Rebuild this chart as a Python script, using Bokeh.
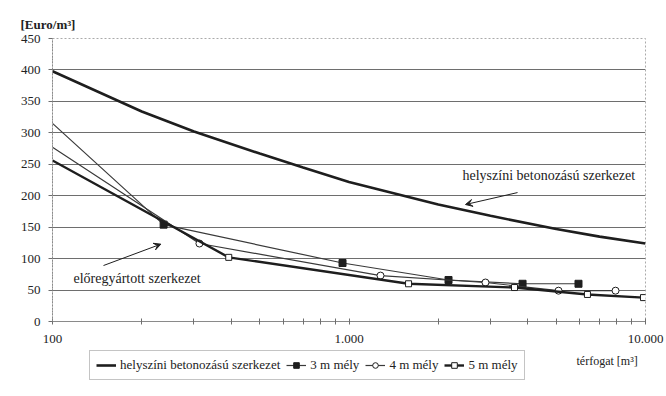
from bokeh.plotting import figure
from bokeh.layouts import column
from bokeh.models import (Range1d, Legend, LegendItem, Label, Arrow, VeeHead,
                          FixedTicker, Title)
from bokeh.embed import file_html
from bokeh.resources import INLINE

# ---- data ----
vol_insitu = [100, 200, 300, 500, 700, 1000, 2000, 3000, 5000, 7000, 10000]
cost_insitu = [398, 334, 302, 267, 245, 222, 186, 168, 147, 135, 124]

vol_3m = [100, 237, 951, 2166, 3849, 5943]
cost_3m = [315, 154, 93, 66, 60, 60]

vol_4m = [100, 313, 1277, 2886, 5089, 7924]
cost_4m = [277, 124, 73, 62, 49, 49]

vol_5m = [100, 393, 1588, 3616, 6371, 9845]
cost_5m = [256, 102, 60, 54, 43, 38]

series_names = ["helyszíni betonozású szerkezet", "3 m mély", "4 m mély", "5 m mély"]

y_ticks = [0, 50, 100, 150, 200, 250, 300, 350, 400, 450]
x_ticks = [100, 1000, 10000]
x_tick_labels = ["100", "1.000", "10.000"]
x_minor = [200, 300, 400, 500, 600, 700, 800, 900,
           2000, 3000, 4000, 5000, 6000, 7000, 8000, 9000]

FONT = "Liberation Serif, serif"
DARK = "#1e1e1e"
THIN = "#3a3a3a"
TXT = "#222222"


def draw_series(fig):
    r_in = fig.line(vol_insitu, cost_insitu, line_color=DARK, line_width=2.6)
    l3 = fig.line(vol_3m, cost_3m, line_color=THIN, line_width=1.2)
    s3 = fig.scatter(vol_3m[1:], cost_3m[1:], marker="square", size=7,
                     fill_color=DARK, line_color=DARK)
    l4 = fig.line(vol_4m, cost_4m, line_color=THIN, line_width=1.2)
    s4 = fig.scatter(vol_4m[1:], cost_4m[1:], marker="circle", size=7,
                     fill_color="white", line_color=DARK, line_width=1)
    l5 = fig.line(vol_5m, cost_5m, line_color=DARK, line_width=2.4)
    s5 = fig.scatter(vol_5m[1:], cost_5m[1:], marker="square", size=6,
                     fill_color="white", line_color=DARK, line_width=1)
    return [[r_in], [l3, s3], [l4, s4], [l5, s5]]


# ---------------- main chart ----------------
p = figure(width=666, height=350, x_axis_type="log",
           x_range=Range1d(100, 10000), y_range=Range1d(0, 450),
           output_backend="svg", toolbar_location=None,
           min_border_left=52, min_border_right=21,
           min_border_top=38, min_border_bottom=29)
p.background_fill_color = "white"
p.border_fill_color = "white"
p.outline_line_color = "#aaaaaa"
p.outline_line_dash = "2 2"

p.xgrid.visible = False
p.ygrid.ticker = FixedTicker(ticks=y_ticks)
p.ygrid.grid_line_color = "#6e6e6e"
p.ygrid.grid_line_width = 1.2

p.yaxis.ticker = FixedTicker(ticks=y_ticks)
p.xaxis.ticker = FixedTicker(ticks=x_ticks, minor_ticks=x_minor)
p.xaxis.major_label_overrides = {v: l for v, l in zip(x_ticks, x_tick_labels)}
for ax in (p.xaxis[0], p.yaxis[0]):
    ax.axis_line_color = "#8a8a8a"
    ax.major_tick_line_color = "#6e6e6e"
    ax.minor_tick_line_color = "#6e6e6e"
    ax.major_label_text_font = FONT
    ax.major_label_text_font_size = "13px"
    ax.major_label_text_color = TXT
p.yaxis.axis_line_dash = "2 1"
p.yaxis.major_tick_in = 0
p.yaxis.major_tick_out = 4
p.yaxis.minor_tick_line_color = None
p.yaxis.major_label_standoff = 8
p.xaxis.major_tick_in = 3
p.xaxis.major_tick_out = 3
p.xaxis.minor_tick_in = 3
p.xaxis.minor_tick_out = 3
p.xaxis.major_label_standoff = 10

draw_series(p)

p.add_layout(Label(x=2414, y=232, text="helyszíni betonozású szerkezet",
                   text_font=FONT, text_font_size="14px", text_color=TXT,
                   text_baseline="middle"))
p.add_layout(Arrow(x_start=3702, y_start=205, x_end=2471, y_end=186,
                   line_color=DARK, line_width=1,
                   end=VeeHead(size=7, fill_color=DARK, line_color=DARK)))
p.add_layout(Label(x=117.7, y=68, text="előregyártott szerkezet",
                   text_font=FONT, text_font_size="14px", text_color=TXT,
                   text_baseline="middle"))
p.add_layout(Arrow(x_start=148.6, y_start=89, x_end=232, y_end=123,
                   line_color=DARK, line_width=1,
                   end=VeeHead(size=7, fill_color=DARK, line_color=DARK)))

p.add_layout(Title(text="[Euro/m³]", align="left", offset=-32, standoff=13,
                   text_font=FONT, text_font_size="13px",
                   text_font_style="bold", text_color=TXT), "above")

# ---------------- legend strip ----------------
q = figure(width=666, height=46, x_axis_type="log",
           x_range=Range1d(100, 10000), y_range=Range1d(1000, 2000),
           output_backend="svg", toolbar_location=None,
           x_axis_location=None, y_axis_location=None, min_border=0)
q.grid.visible = False
q.outline_line_color = None
q.background_fill_color = "white"
q.border_fill_color = "white"

groups = draw_series(q)  # same styles; out of this strip's range, used for legend keys

legend = Legend(items=[LegendItem(label=n, renderers=g)
                       for n, g in zip(series_names, groups)],
                orientation="horizontal", location=(37, 16))
legend.label_text_font = FONT
legend.label_text_font_size = "13px"
legend.label_text_color = TXT
legend.glyph_width = 20
legend.glyph_height = 14
legend.label_height = 14
legend.label_standoff = 4
legend.spacing = 6
legend.padding = 6
legend.margin = 0
legend.border_line_color = "#8a8a8a"
legend.border_line_width = 1
legend.background_fill_alpha = 1
q.add_layout(legend, "center")

q.add_layout(Label(x=524, y=36, x_units="screen", y_units="screen",
                   text="térfogat [m³]", text_font=FONT, text_font_size="12px",
                   text_color=TXT, text_baseline="middle"))

open("out.html", "w").write(file_html(column(p, q, spacing=0), INLINE))
